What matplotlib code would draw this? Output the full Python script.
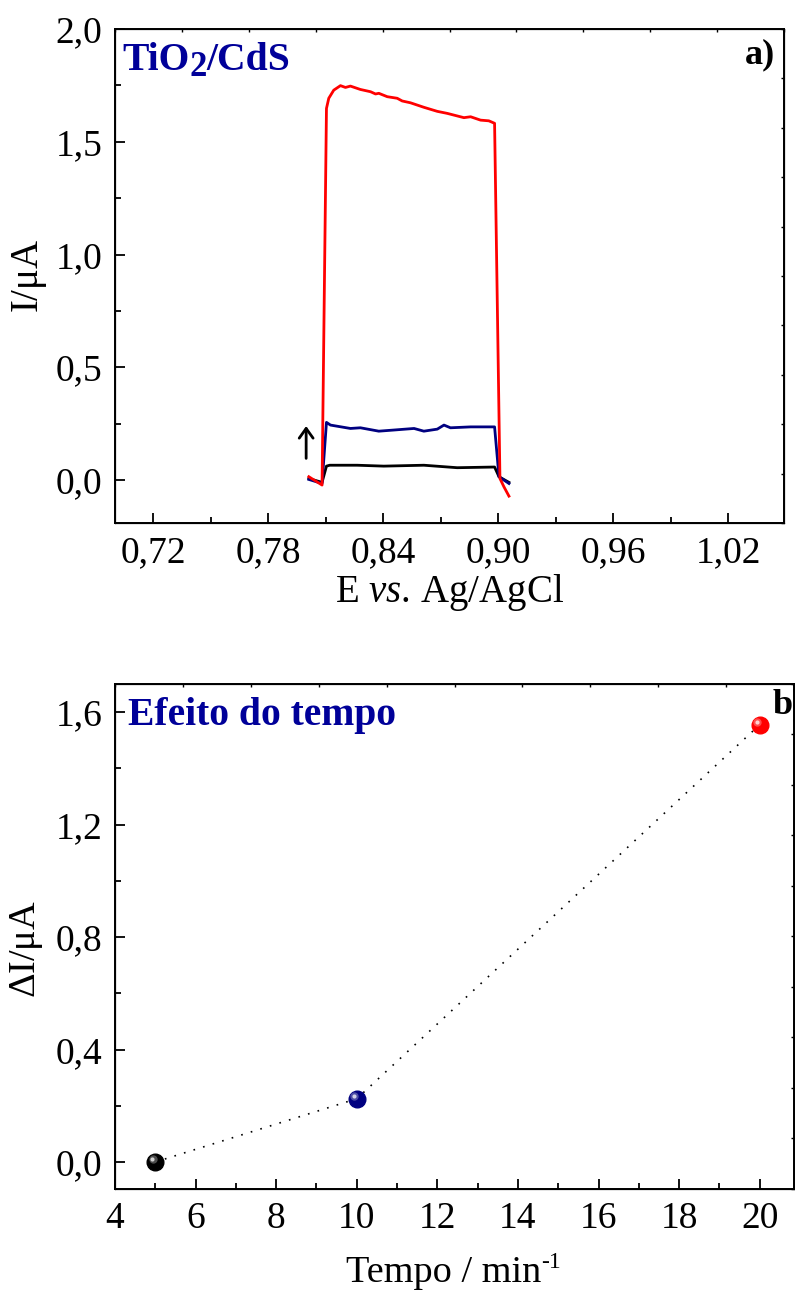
import numpy as np
import matplotlib
matplotlib.use("Agg")
import matplotlib.pyplot as plt
from matplotlib.ticker import FixedLocator, FuncFormatter, MultipleLocator
from matplotlib.transforms import offset_copy, IdentityTransform

plt.rcParams['font.family'] = ['Liberation Serif', 'DejaVu Serif']
plt.rcParams['mathtext.fontset'] = 'custom'
plt.rcParams['mathtext.rm'] = 'Liberation Serif'
plt.rcParams['mathtext.it'] = 'Liberation Serif:italic'
plt.rcParams['mathtext.bf'] = 'Liberation Serif:bold'

# panel a) - photocurrent transients (E in V, I in uA)
E_red = [0.8011, 0.8080, 0.8103, 0.8115, 0.8141, 0.8176, 0.8202, 0.8228, 0.8280, 0.8333,
         0.8359, 0.8376, 0.8420, 0.8472, 0.8498, 0.8541, 0.8611, 0.8681, 0.8733, 0.8820,
         0.8855, 0.8907, 0.8950, 0.8980, 0.9008, 0.9029, 0.9055]
I_red = [0.015, -0.022, 1.648, 1.693, 1.729, 1.749, 1.741, 1.747, 1.732, 1.722,
         1.712, 1.715, 1.700, 1.693, 1.681, 1.673, 1.653, 1.635, 1.626, 1.607,
         1.611, 1.596, 1.593, 1.582, 0.007, -0.030, -0.071]

E_blue = [0.8011, 0.8080, 0.8103, 0.8124, 0.8228, 0.8280, 0.8376, 0.8454, 0.8560, 0.8611,
          0.8681, 0.8716, 0.8750, 0.8855, 0.8980, 0.9003, 0.9055]
I_blue = [0.003, -0.015, 0.256, 0.244, 0.229, 0.232, 0.217, 0.222, 0.229, 0.217,
          0.226, 0.244, 0.232, 0.236, 0.236, 0.015, -0.015]

E_black = [0.8011, 0.8080, 0.8103, 0.8120, 0.8263, 0.8402, 0.8611, 0.8785, 0.8980, 0.9003, 0.9055]
I_black = [0.007, -0.010, 0.062, 0.066, 0.066, 0.062, 0.066, 0.055, 0.058, 0.015, -0.010]

# panel b) - delta I vs time
tempo = [5, 10, 20]
delta_I = [0.0, 0.225, 1.555]
point_colors = ['black', '#000080', 'red']

navy_text = '#000099'

fig = plt.figure(figsize=(7.95, 12.9), dpi=100)
renderer = fig.canvas.get_renderer()


def place_after(prev, s, dy=0, **kw):
    # put a text right after another one, dy pixels lower
    bb = prev.get_window_extent(renderer)
    x0, y0 = prev.get_transform().transform(prev.get_position())
    return fig.text(bb.x1, y0 - dy, s, transform=IdentityTransform(),
                    ha='left', va='baseline', **kw)


# ---------------- panel a
ax1 = fig.add_axes([0.1447, 0.5946, 0.8415, 0.3829])
ax1.plot(E_black, I_black, color='black', lw=2.0, zorder=3)
ax1.plot(E_blue, I_blue, color='#000080', lw=2.0, zorder=4)
ax1.plot(E_red, I_red, color='red', lw=2.0, zorder=5)
ax1.annotate('', xy=(0.7997, 0.252), xytext=(0.7997, 0.084),
             arrowprops=dict(arrowstyle='->,head_length=0.7,head_width=0.5', color='black', lw=2.0))

ax1.set_xlim(0.70, 1.049)
ax1.set_ylim(-0.19, 2.0)
ax1.xaxis.set_major_locator(FixedLocator([0.72, 0.78, 0.84, 0.90, 0.96, 1.02]))
ax1.xaxis.set_minor_locator(FixedLocator([0.75, 0.81, 0.87, 0.93, 0.99, 1.05]))
ax1.yaxis.set_major_locator(MultipleLocator(0.5))
ax1.yaxis.set_minor_locator(MultipleLocator(0.25))
ax1.xaxis.set_major_formatter(FuncFormatter(lambda v, p: ('%.2f' % v).replace('.', ',')))
ax1.yaxis.set_major_formatter(FuncFormatter(lambda v, p: ('%.1f' % v).replace('.', ',')))

ax1.text(0.5, -0.16, r'E $\it{vs}$. Ag/AgCl', transform=ax1.transAxes,
         ha='center', va='baseline', fontsize=28)
ax1.text(-0.128, 0.50, r'I/$\mathrm{\mu}$A', transform=ax1.transAxes,
         ha='center', va='center', rotation=90, fontsize=28)
t = ax1.text(0.0105, 0.917, 'TiO', transform=ax1.transAxes, ha='left', va='baseline',
             fontsize=28.5, fontweight='bold', color=navy_text)
t = place_after(t, '2', dy=6, fontsize=25, fontweight='bold', color=navy_text)
place_after(t, '/CdS', dy=-6, fontsize=28.5, fontweight='bold', color=navy_text)
ax1.text(0.9865, 0.931, 'a)', transform=ax1.transAxes, ha='right', va='baseline',
         fontsize=26, fontweight='bold')

# ---------------- panel b
ax2 = fig.add_axes([0.1447, 0.0783, 0.854, 0.3915])
ax2.plot(tempo, delta_I, color='black', lw=1.2, linestyle=(0, (1, 5)), zorder=2)
hl1 = offset_copy(ax2.transData, fig=fig, x=-1.8, y=1.8, units='points')
hl2 = offset_copy(ax2.transData, fig=fig, x=-2.3, y=2.3, units='points')
for i in range(len(tempo)):
    ax2.plot(tempo[i], delta_I[i], 'o', ms=12, color=point_colors[i], mec=point_colors[i], zorder=3)
    ax2.plot(tempo[i], delta_I[i], 'o', ms=6, color='white', alpha=0.3, mew=0,
             transform=hl1, zorder=4)
    ax2.plot(tempo[i], delta_I[i], 'o', ms=3, color='white', alpha=0.75, mew=0,
             transform=hl2, zorder=5)

ax2.set_xlim(4, 20.85)
ax2.set_ylim(-0.096, 1.70)
ax2.xaxis.set_major_locator(MultipleLocator(2))
ax2.xaxis.set_minor_locator(MultipleLocator(1))
ax2.yaxis.set_major_locator(MultipleLocator(0.4))
ax2.yaxis.set_minor_locator(MultipleLocator(0.2))
ax2.yaxis.set_major_formatter(FuncFormatter(lambda v, p: ('%.1f' % v).replace('.', ',')))

t = ax2.text(0.34, -0.184, 'Tempo / min', transform=ax2.transAxes,
             ha='left', va='baseline', fontsize=27.5)
place_after(t, '-1', dy=-14, fontsize=17)
ax2.text(-0.131, 0.475, r'$\mathrm{\Delta}$I/$\mathrm{\mu}$A', transform=ax2.transAxes,
         ha='center', va='center', rotation=90, fontsize=27.5)
ax2.text(0.019, 0.919, 'Efeito do tempo', transform=ax2.transAxes,
         ha='left', va='baseline', fontsize=28.5, fontweight='bold', color=navy_text)
ax2.text(0.969, 0.9426, 'b)', transform=ax2.transAxes, ha='left', va='baseline',
         fontsize=26, fontweight='bold')

for ax in (ax1, ax2):
    for s in ax.spines.values():
        s.set_linewidth(1.4)
    ax.tick_params(which='major', direction='in', length=7.5, width=1.3, labelsize=27, pad=9)
    ax.tick_params(which='minor', direction='in', length=4, width=1.3)
    # short ticks on top and right spines (10 equal divisions)
    tx = ax.twiny()
    tx.set_xlim(0, 10)
    tx.set_xticks(range(11))
    tx.tick_params(direction='in', length=2.5, width=1, labeltop=False)
    ty = ax.twinx()
    ty.set_ylim(0, 10)
    ty.set_yticks(range(11))
    ty.tick_params(direction='in', length=2.5, width=1, labelright=False)

fig.savefig('out.png', dpi=100)
